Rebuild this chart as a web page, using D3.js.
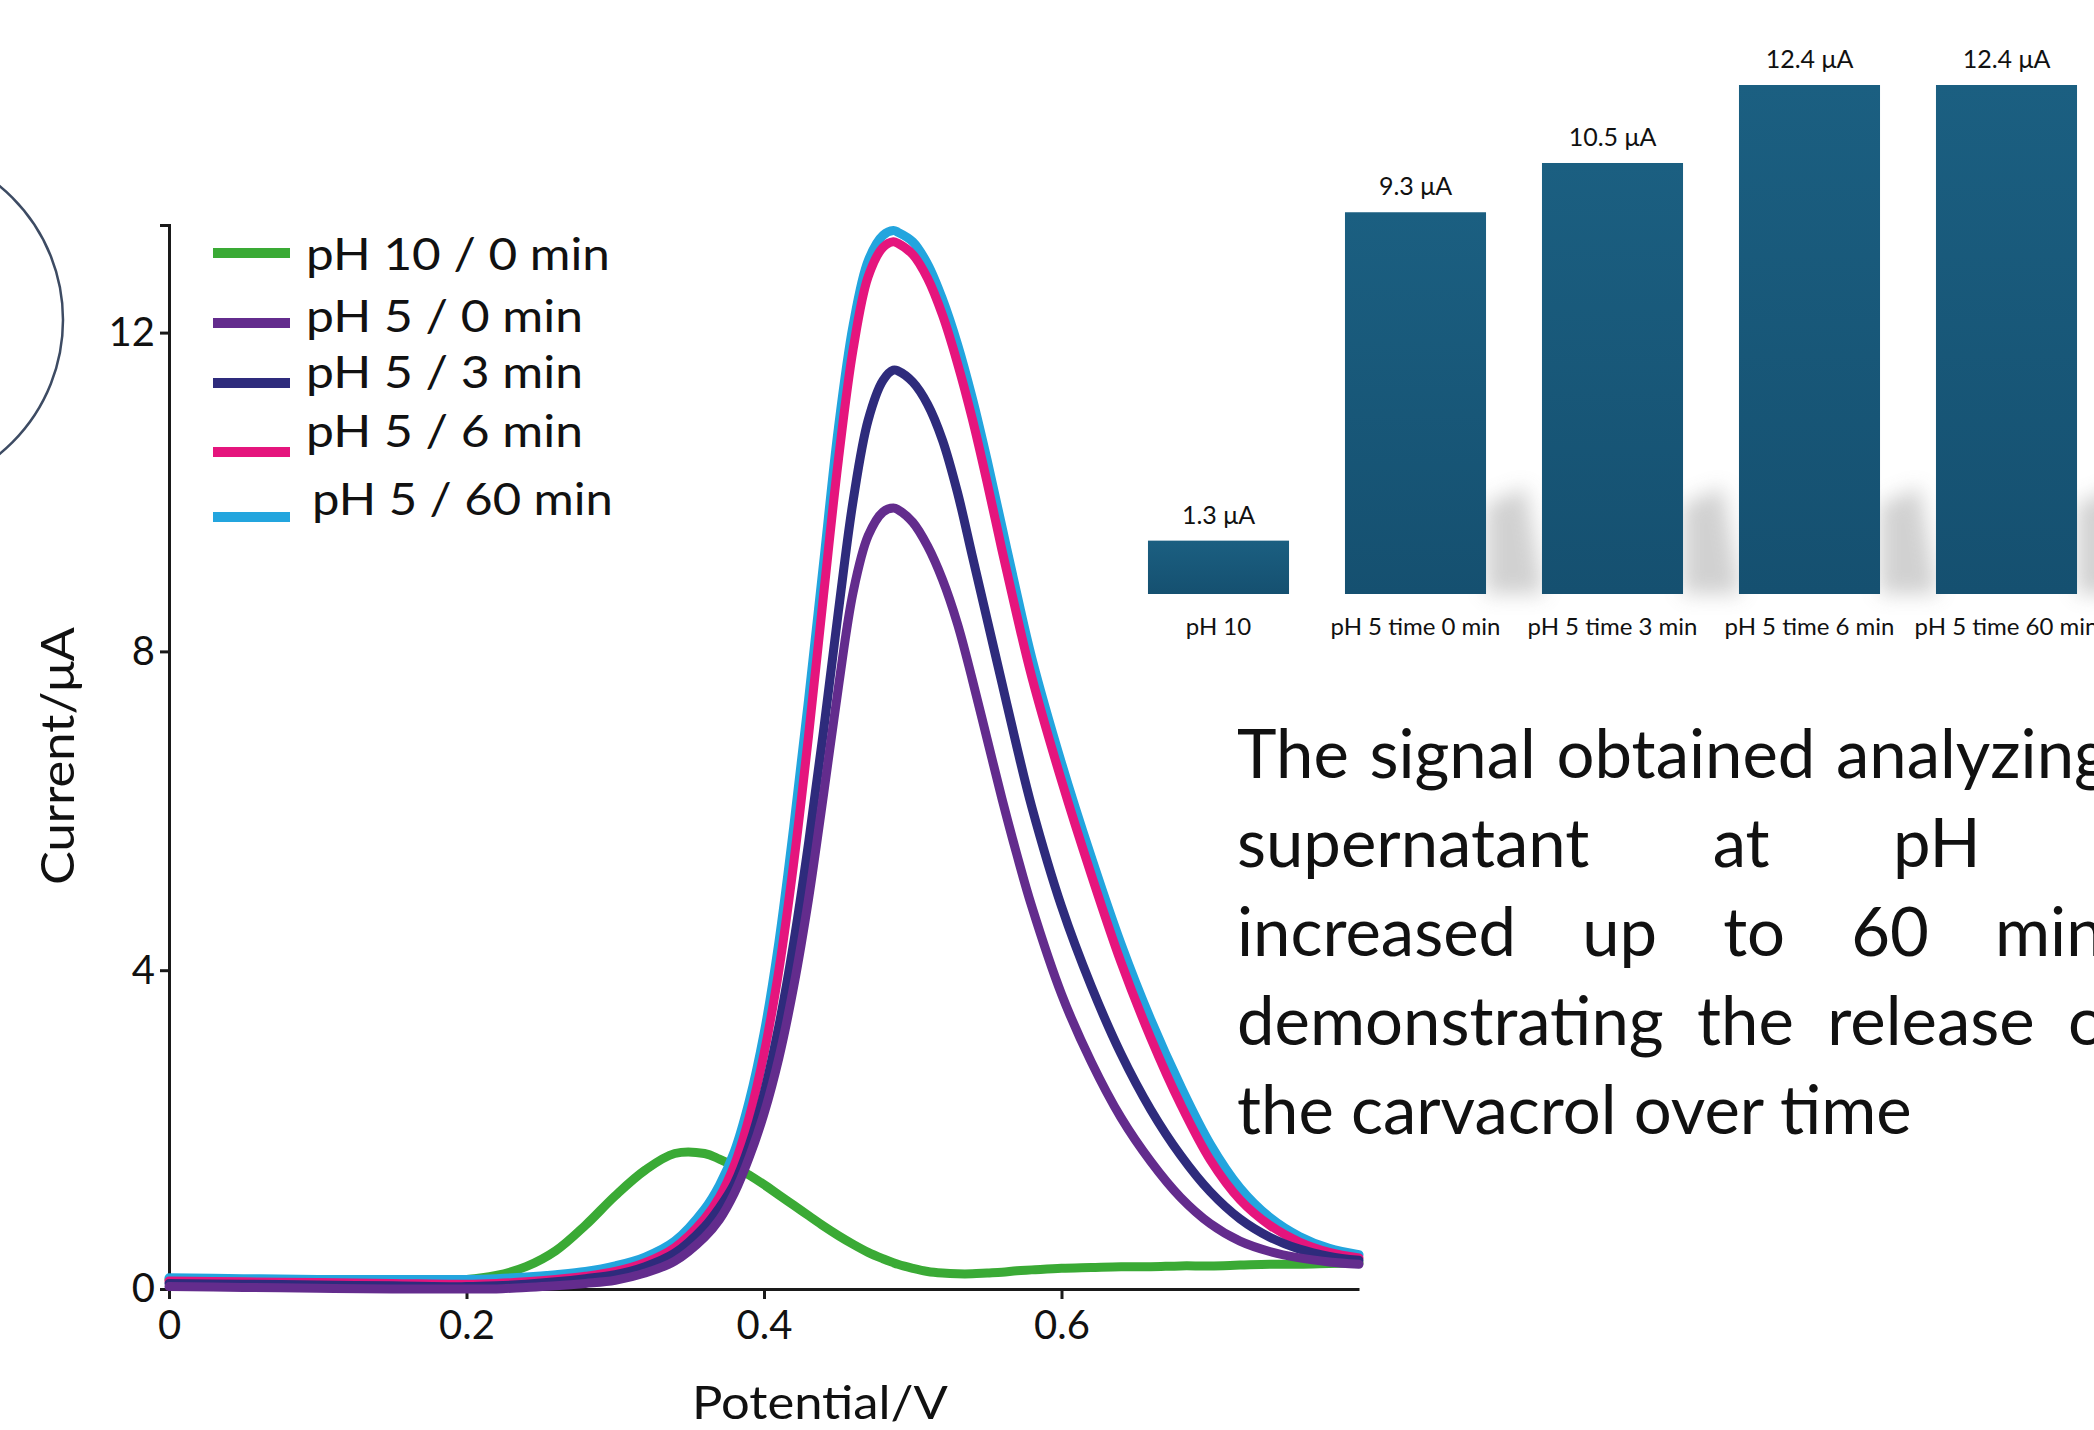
<!DOCTYPE html>
<html>
<head>
<meta charset="utf-8">
<script src="https://cdn.jsdelivr.net/npm/d3@7"></script>
<style>
  body { margin: 0; background: #fff; overflow: hidden; }
  svg { display: block; }
  text { font-family: Lato, "Open Sans", sans-serif; fill: #111; }
</style>
</head>
<body>
<svg id="slide"></svg>
<script>
let width = 2094;
let height = 1430;

/* voltammograms: potential (V) and current (uA) per curve */
var potential = [0, 0.05, 0.10, 0.15, 0.20, 0.22, 0.24, 0.26, 0.28, 0.30,
                 0.32, 0.34, 0.36, 0.37, 0.38, 0.39, 0.40, 0.41, 0.42, 0.43,
                 0.44, 0.45, 0.46, 0.47, 0.48, 0.487, 0.49, 0.50, 0.51, 0.52,
                 0.53, 0.54, 0.55, 0.56, 0.57, 0.58, 0.60, 0.62, 0.64, 0.66,
                 0.68, 0.70, 0.72, 0.74, 0.76, 0.78, 0.80];
var ph10_0min = [0.12, 0.12, 0.11, 0.11, 0.12, 0.17, 0.28, 0.48, 0.80, 1.17,
                 1.49, 1.70, 1.70, 1.63, 1.54, 1.43, 1.31, 1.18, 1.05, 0.92,
                 0.79, 0.67, 0.56, 0.46, 0.38, 0.33, 0.31, 0.26, 0.22, 0.20,
                 0.19, 0.19, 0.20, 0.21, 0.23, 0.24, 0.26, 0.27, 0.28, 0.28,
                 0.29, 0.29, 0.30, 0.31, 0.31, 0.32, 0.33];
var ph5_0min = [0.03, 0.02, 0.01, 0.00, 0.00, 0.00, 0.02, 0.04, 0.07, 0.11,
                0.20, 0.35, 0.65, 0.87, 1.20, 1.65, 2.20, 2.90, 3.80, 4.90,
                6.20, 7.55, 8.75, 9.45, 9.75, 9.80, 9.78, 9.62, 9.32, 8.90,
                8.35, 7.65, 6.90, 6.15, 5.45, 4.80, 3.70, 2.85, 2.15, 1.60,
                1.15, 0.82, 0.60, 0.47, 0.39, 0.34, 0.31];
var ph5_3min = [0.07, 0.06, 0.05, 0.04, 0.03, 0.04, 0.06, 0.09, 0.13, 0.18,
                0.28, 0.45, 0.78, 1.02, 1.32, 1.80, 2.45, 3.30, 4.35, 5.60,
                7.00, 8.50, 9.90, 10.90, 11.40, 11.53, 11.52, 11.38, 11.10, 10.65,
                10.00, 9.20, 8.40, 7.60, 6.80, 6.05, 4.80, 3.80, 2.95, 2.25,
                1.68, 1.22, 0.88, 0.65, 0.50, 0.41, 0.36];
var ph5_6min = [0.10, 0.09, 0.08, 0.07, 0.06, 0.07, 0.09, 0.12, 0.16, 0.22,
                0.33, 0.52, 0.88, 1.15, 1.55, 2.15, 2.95, 4.00, 5.35, 6.95,
                8.70, 10.40, 11.80, 12.70, 13.07, 13.14, 13.12, 12.98, 12.68, 12.22,
                11.62, 10.92, 10.12, 9.27, 8.45, 7.68, 6.38, 5.20, 4.10, 3.15,
                2.32, 1.62, 1.12, 0.80, 0.59, 0.46, 0.39];
var ph5_60min = [0.14, 0.13, 0.12, 0.12, 0.12, 0.13, 0.15, 0.18, 0.22, 0.29,
                 0.40, 0.60, 1.00, 1.30, 1.72, 2.35, 3.20, 4.35, 5.80, 7.40,
                 9.10, 10.80, 12.10, 12.90, 13.22, 13.28, 13.26, 13.14, 12.86, 12.42,
                 11.86, 11.18, 10.40, 9.56, 8.72, 7.92, 6.60, 5.42, 4.33, 3.38,
                 2.55, 1.82, 1.27, 0.90, 0.66, 0.51, 0.43];

var seriesNames = ["pH 10 / 0 min", "pH 5 / 0 min", "pH 5 / 3 min", "pH 5 / 6 min", "pH 5 / 60 min"];
var seriesValues = [ph10_0min, ph5_0min, ph5_3min, ph5_6min, ph5_60min];
var seriesColors = ["#3aaa35", "#632c8d", "#2e2b7c", "#e5157d", "#23a5de"];
var drawOrder = [0, 4, 3, 2, 1];

var xTicks = [0, 0.2, 0.4, 0.6];
var yTicks = [0, 4, 8, 12];

/* bar chart of peak currents */
var barLabels = ["pH 10", "pH 5 time 0 min", "pH 5 time 3 min", "pH 5 time 6 min", "pH 5 time 60 min"];
var barValues = [1.3, 9.3, 10.5, 12.4, 12.4];

/* slide text, justified lines (the right edge of the slide cuts them) */
var textLines = [
    ["The", "signal", "obtained", "analyzing"],
    ["supernatant", "at", "pH"],
    ["increased", "up", "to", "60", "min"],
    ["demonstrating", "the", "release", "of"],
    ["the carvacrol over time"]
];
var lastWordX = [1836, 1893, 1995, 2068, null];

let svg = d3.select("#slide")
    .attr("width", width)
    .attr("height", height);

svg.append("rect")
   .attr("width", width)
   .attr("height", height)
   .attr("fill", "#fff");

// squeeze or stretch a text so it spans the wanted width
function fitText(sel, x, y, w, anchor){
    let natural = sel.node().getComputedTextLength();
    let k = w / natural;
    let dx = anchor === "middle" ? -w / 2 : 0;
    sel.attr("x", 0).attr("y", 0)
       .attr("transform", `translate(${x + dx}, ${y}) scale(${k}, 1)`);
}

let defs = svg.append("defs");
let grad = defs.append("linearGradient")
    .attr("id", "barGrad")
    .attr("x1", 0).attr("y1", 0).attr("x2", 0).attr("y2", 1);
grad.append("stop").attr("offset", "0%").attr("stop-color", "#1b5f81");
grad.append("stop").attr("offset", "100%").attr("stop-color", "#155070");
defs.append("filter")
    .attr("id", "blur")
    .attr("x", "-50%").attr("y", "-50%").attr("width", "200%").attr("height", "200%")
    .append("feGaussianBlur")
    .attr("stdDeviation", 10);

/* decorative arc on the left */
svg.append("circle")
   .attr("cx", -110)
   .attr("cy", 320)
   .attr("r", 173)
   .attr("fill", "none")
   .attr("stroke", "#3d4b63")
   .attr("stroke-width", 2.5);

/* ---- voltammogram ---- */
let xScale = d3.scaleLinear().domain([0, 0.8]).range([169, 1359]);
let yScale = d3.scaleLinear().domain([0, 13.35]).range([1289, 225]);

let xAxis = svg.append("g")
    .attr("transform", `translate(0, ${yScale(0)})`)
    .call(d3.axisBottom(xScale)
        .tickValues(xTicks)
        .tickFormat(d => String(d))
        .tickSize(10)
        .tickSizeOuter(0)
        .tickPadding(12));

let yAxis = svg.append("g")
    .attr("transform", `translate(${xScale(0)}, 0)`)
    .call(d3.axisLeft(yScale)
        .tickValues(yTicks)
        .tickFormat(d => String(d))
        .tickSize(9)
        .tickSizeOuter(9)
        .tickPadding(5));

[xAxis, yAxis].forEach(function(ax){
    ax.select(".domain").attr("stroke", "#1a1a1a").attr("stroke-width", 3);
    ax.selectAll(".tick line").attr("stroke", "#1a1a1a").attr("stroke-width", 3);
    ax.selectAll(".tick text")
      .style("font-family", "Lato, sans-serif")
      .style("font-size", "40px")
      .attr("fill", "#111");
});

let line = d3.line()
    .x((d, i) => xScale(potential[i]))
    .y(d => yScale(d))
    .curve(d3.curveCatmullRom.alpha(0.5));

let curves = svg.append("g");
drawOrder.forEach(function(s){
    curves.append("path")
          .datum(seriesValues[s])
          .attr("d", line)
          .attr("fill", "none")
          .attr("stroke", seriesColors[s])
          .attr("stroke-width", 9)
          .attr("stroke-linecap", "round")
          .attr("stroke-linejoin", "round");
});

/* legend */
var legendLineY = [253, 323, 383, 452, 517];
var legendTextY = [270, 332, 388, 447, 515];
var legendTextX = [306, 306, 306, 306, 312];
var legendTextW = [304, 277, 277, 277, 301];

let legend = svg.append("g");
seriesNames.forEach(function(name, i){
    legend.append("line")
          .attr("x1", 213).attr("x2", 290)
          .attr("y1", legendLineY[i]).attr("y2", legendLineY[i])
          .attr("stroke", seriesColors[i])
          .attr("stroke-width", 10);
    let t = legend.append("text")
          .style("font-size", "44px")
          .text(name);
    fitText(t, legendTextX[i], legendTextY[i], legendTextW[i]);
});

let yTitle = svg.append("text")
   .style("font-size", "46px")
   .text("Current/μA");
fitText(yTitle, 0, 0, 258, "middle");
yTitle.attr("transform", `translate(74, 756) rotate(-90) ` + yTitle.attr("transform"));

let xTitle = svg.append("text")
   .style("font-size", "46px")
   .text("Potential/V");
fitText(xTitle, 820, 1419, 256, "middle");

/* ---- bar chart ---- */
let xBar = d3.scaleBand()
    .domain(barLabels)
    .range([1120, 2105])
    .paddingInner(0.284)
    .paddingOuter(0.142);
let yBar = d3.scaleLinear().domain([0, 12.4]).range([594, 85]);

let bars = svg.append("g");

bars.selectAll("path.shadow")
    .data(barLabels.slice(1))
    .join("path")
    .attr("class", "shadow")
    .attr("d", function(d){
        let r = xBar(d) + xBar.bandwidth();
        return `M${r},${yBar(0)} L${r},${yBar(2.2)} L${r + 40},${yBar(2.6)} L${r + 58},${yBar(0)} Z`;
    })
    .attr("fill", "#9a9a9a")
    .attr("opacity", 0.45)
    .attr("filter", "url(#blur)");

bars.selectAll("rect")
    .data(barValues)
    .join("rect")
    .attr("x", (d, i) => xBar(barLabels[i]))
    .attr("y", d => yBar(d))
    .attr("width", xBar.bandwidth())
    .attr("height", d => yBar(0) - yBar(d))
    .attr("fill", "url(#barGrad)");

bars.selectAll("text.value")
    .data(barValues)
    .join("text")
    .attr("class", "value")
    .attr("x", (d, i) => xBar(barLabels[i]) + xBar.bandwidth() / 2)
    .attr("y", d => yBar(d) - 17)
    .attr("text-anchor", "middle")
    .style("font-size", "25px")
    .attr("fill", "#333")
    .text(d => d + " μA");

bars.selectAll("text.cat")
    .data(barLabels)
    .join("text")
    .attr("class", "cat")
    .attr("x", d => xBar(d) + xBar.bandwidth() / 2)
    .attr("y", 635)
    .attr("text-anchor", "middle")
    .style("font-size", "24px")
    .attr("fill", "#333")
    .text(d => d);

/* ---- slide text ---- */
let para = svg.append("g")
    .style("font-size", "67px");

textLines.forEach(function(words, i){
    let y = 778 + i * 89;
    if (lastWordX[i] === null){
        para.append("text").attr("x", 1237).attr("y", y).attr("fill", "#000").text(words.join(" "));
        return;
    }
    // measure words, then spread the gaps evenly like a justified line
    let nodes = words.map(w => para.append("text").attr("y", y).attr("fill", "#000").text(w));
    let used = d3.sum(nodes.slice(0, -1), n => n.node().getComputedTextLength());
    let gap = (lastWordX[i] - 1237 - used) / (words.length - 1);
    let x = 1237;
    nodes.forEach(function(n){
        n.attr("x", x);
        x += n.node().getComputedTextLength() + gap;
    });
});
</script>
</body>
</html>
